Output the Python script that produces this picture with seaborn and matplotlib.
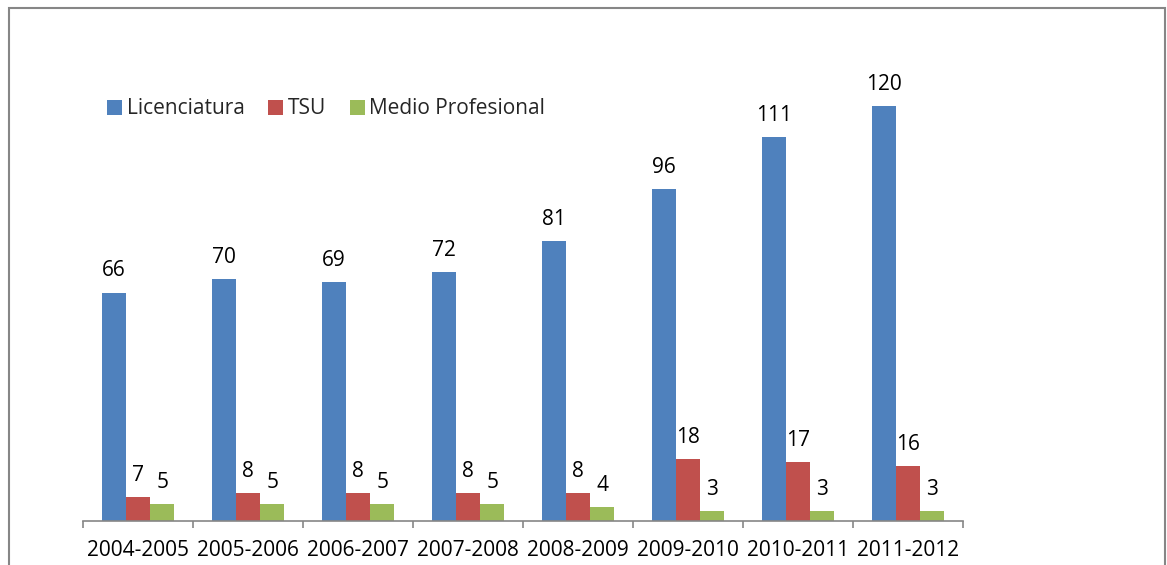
import numpy as np
import pandas as pd
import matplotlib
matplotlib.use("Agg")
import matplotlib.pyplot as plt
import seaborn as sns
from matplotlib.patches import Rectangle, Patch

years = ["2004-2005", "2005-2006", "2006-2007", "2007-2008",
         "2008-2009", "2009-2010", "2010-2011", "2011-2012"]
licenciatura = [66, 70, 69, 72, 81, 96, 111, 120]
tsu = [7, 8, 8, 8, 8, 18, 17, 16]
medio = [5, 5, 5, 5, 4, 3, 3, 3]
series_names = ["Licenciatura", "TSU", "Medio Profesional"]
colors = ["#4F81BD", "#C0504D", "#9BBB59"]

df = pd.DataFrame({
    "year": years * 3,
    "value": licenciatura + tsu + medio,
    "serie": [series_names[0]] * 8 + [series_names[1]] * 8 + [series_names[2]] * 8,
})

sns.set_theme(style="white")
plt.rcParams["font.family"] = ["Open Sans", "DejaVu Sans"]

W, H = 1167, 565
fig = plt.figure(figsize=(W / 100, H / 100), dpi=100)
ax_left, ax_right = 83, 963
ax_bottom_px, ax_top_px = 521, 36.5
ax = fig.add_axes([ax_left / W, 1 - ax_bottom_px / H,
                   (ax_right - ax_left) / W, (ax_bottom_px - ax_top_px) / H])

sns.barplot(data=df, x="year", y="value", hue="serie", palette=colors,
            width=0.66, gap=0, ax=ax, legend=False, saturation=1,
            linewidth=0, edgecolor="none")

ax.set_xlim(-0.5, 7.5)
ax.set_ylim(0, 140)
for c in ax.containers:
    for bar in c:
        h = bar.get_height()
        ax.annotate(f"{int(h)}", (bar.get_x() + bar.get_width() / 2, h),
                    xytext=(0, 8), textcoords="offset points",
                    ha="center", va="bottom", fontsize=15, color="#000000")

for s in ["top", "right", "left"]:
    ax.spines[s].set_visible(False)
ax.spines["bottom"].set_color("#868686")
ax.spines["bottom"].set_linewidth(1.2)
ax.set_yticks([])
ax.set_xticks(np.arange(-0.5, 8.0, 1.0))
ax.set_xticklabels([])
ax.tick_params(axis="x", which="major", length=5, width=1.2, color="#868686", direction="out", bottom=True)
ax.set_xticks(np.arange(8), minor=True)
ax.set_xticklabels(years, minor=True)
ax.tick_params(axis="x", which="minor", length=0, pad=14, labelsize=15, labelcolor="#000000")
ax.set_xlabel("")
ax.set_ylabel("")

handles = [Patch(facecolor=c, edgecolor="none") for c in colors]
fig.legend(handles, series_names, loc="center left",
           bbox_to_anchor=(97 / W, 1 - 109 / H), ncol=3, frameon=False,
           handlelength=0.72, handleheight=0.72, handletextpad=0.2,
           columnspacing=1.15, borderpad=0, fontsize=15)

fig.patches.append(Rectangle((9 / W, -0.05), (1165 - 9) / W, 1.05 - 8 / H,
                             transform=fig.transFigure, fill=False,
                             edgecolor="#868686", linewidth=1.5))

fig.savefig("out.png", dpi=100)
